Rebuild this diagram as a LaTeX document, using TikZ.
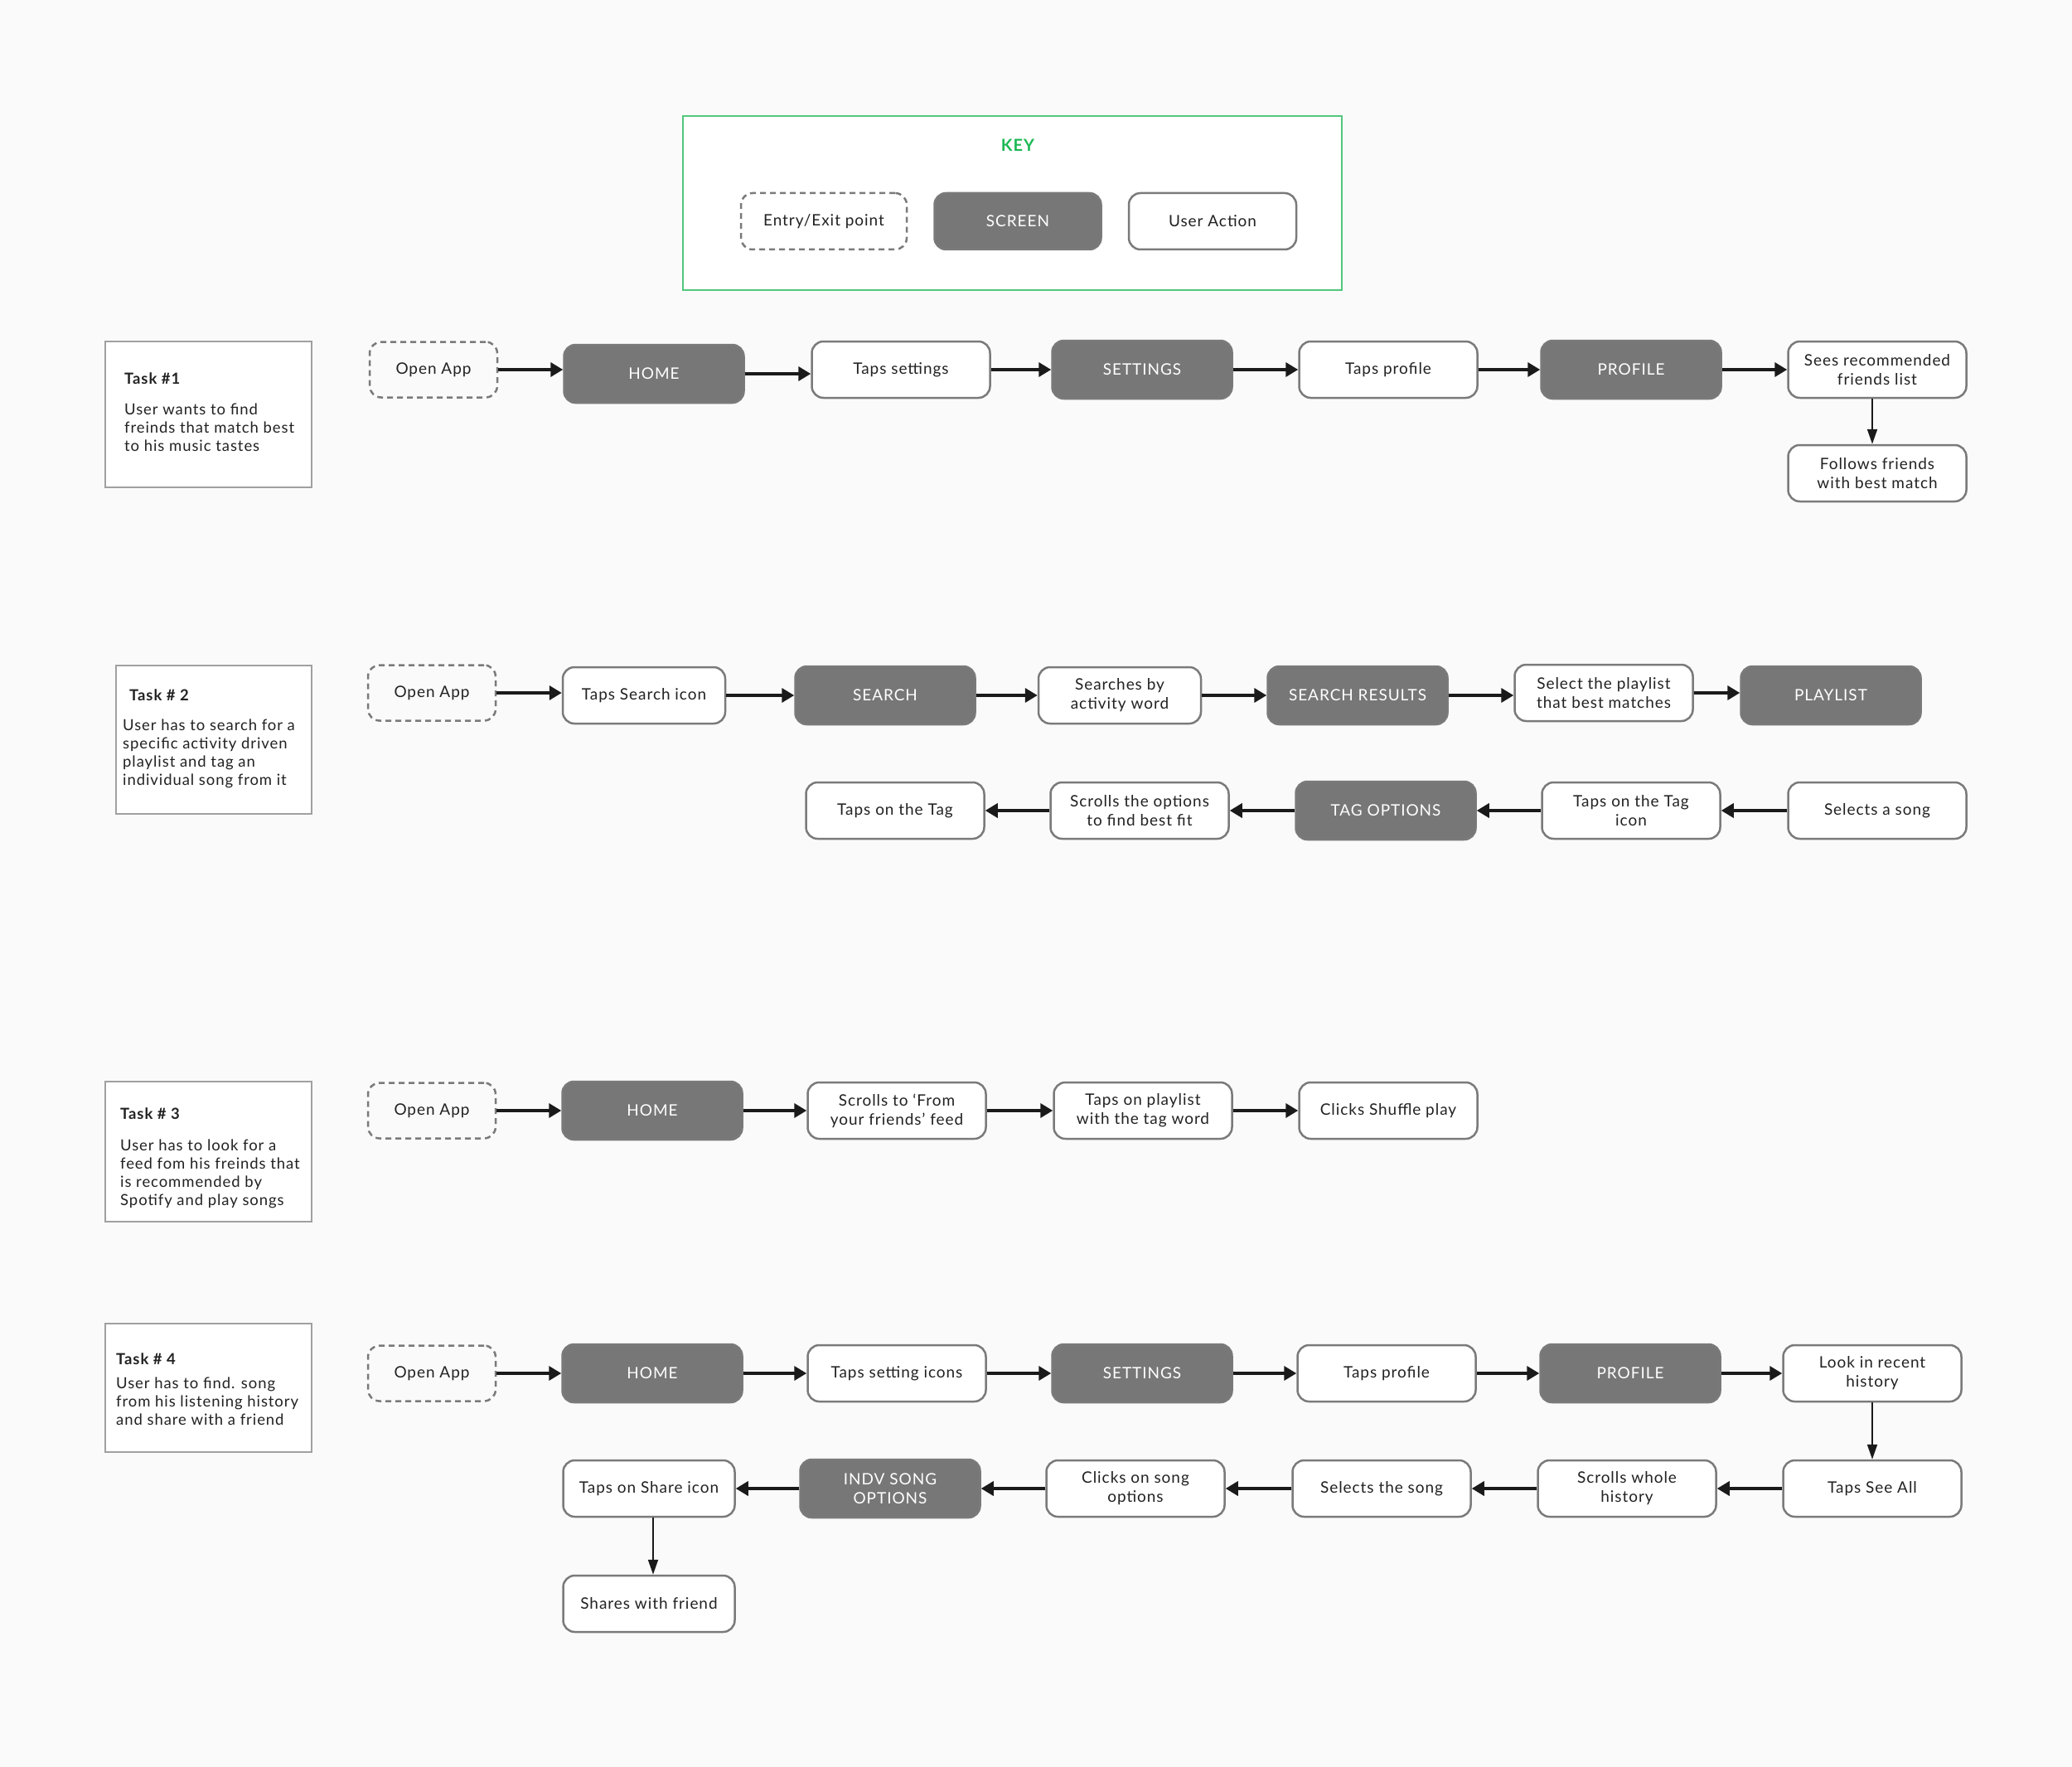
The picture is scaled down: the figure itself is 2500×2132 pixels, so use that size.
\documentclass[tikz,border=0pt]{standalone}
\usepackage{fontspec}
\setmainfont{Lato}[LetterSpace=5]
\usetikzlibrary{arrows.meta}
\definecolor{bg}{HTML}{FAFAFA}
\definecolor{boxgray}{HTML}{7A7A7A}
\definecolor{scrgray}{HTML}{777777}
\definecolor{keygreen}{HTML}{1DB954}
\definecolor{keyborder}{HTML}{52C77C}
\definecolor{arrowblack}{HTML}{1A1A1A}
\definecolor{taskborder}{HTML}{A0A0A0}
\definecolor{txt}{HTML}{222222}
\begin{document}
\begin{tikzpicture}[x=1pt,y=-1pt,
  base/.style={rounded corners=14pt, line width=2.5pt, draw=boxgray, align=center,
    font=\fontsize{19}{23}\selectfont, inner sep=0pt},
  action/.style={base, fill=white, text=txt, minimum width=215pt, minimum height=68pt},
  screen/.style={base, fill=scrgray, text=white, minimum width=217pt, minimum height=70pt},
  entry/.style={base, dash pattern=on 7pt off 5pt, text=txt, minimum width=154pt, minimum height=67pt},
  taskbox/.style={draw=taskborder, line width=1.5pt, fill=white, anchor=north west, inner sep=0pt},
  tasktext/.style={anchor=west, align=left, inner sep=0pt, text=txt, font=\fontsize{18.5}{22}\selectfont},
  flow/.style={-{Triangle[length=15pt,width=17pt]}, line width=3.5pt, draw=arrowblack},
  down/.style={-{Triangle[length=18pt,width=12pt]}, line width=2pt, draw=arrowblack}]
\useasboundingbox (0,0) rectangle (2500,2132);
\fill[bg] (0,0) rectangle (2500,2132);

% ---------- KEY ----------
\node[draw=keyborder, line width=2pt, fill=white, anchor=north west, minimum width=795pt, minimum height=210pt, inner sep=0pt] (key) at (823,139) {};
\node[text=keygreen, font=\fontsize{20}{24}\selectfont\bfseries] (keyt) at (1228,175) {KEY};
\node[entry, minimum width=200pt, minimum height=68pt] (ke) at (994,267) {Entry/Exit point};
\node[screen, minimum width=201pt, minimum height=68pt] (ks) at (1228,267) {SCREEN};
\node[action, minimum width=202pt, minimum height=68pt] (ka) at (1463,267) {User Action};

% ---------- TASK 1 ----------
\node[taskbox, minimum width=249pt, minimum height=176pt] (t1) at (126,411) {};
\node[tasktext] (t1t) at (150,497) {\textbf{Task \#1}\\[15pt]User wants to find\\freinds that match best\\to his music tastes};
\node[entry] (o1) at (523,446) {Open App};
\node[screen] (h1) at (789,451) {HOME};
\node[action] (a11) at (1087,446) {Taps settings};
\node[screen] (s11) at (1378,446) {SETTINGS};
\node[action] (a12) at (1675,446) {Taps profile};
\node[screen] (s12) at (1968,446) {PROFILE};
\node[action] (a13) at (2265,446) {Sees recommended\\friends list};
\node[action] (a14) at (2265,571) {Follows friends\\with best match};
\draw[flow] (o1.east) -- (o1.east -| h1.west);
\draw[flow] (h1.east) -- (h1.east -| a11.west);
\draw[flow] (a11.east) -- (a11.east -| s11.west);
\draw[flow] (s11.east) -- (s11.east -| a12.west);
\draw[flow] (a12.east) -- (a12.east -| s12.west);
\draw[flow] (s12.east) -- (s12.east -| a13.west);
\draw[down] ([xshift=-6pt]a13.south) -- ([xshift=-6pt]a13.south |- a14.north);

% ---------- TASK 2 ----------
\node[taskbox, minimum width=236pt, minimum height=179pt] (t2) at (139,802) {};
\node[tasktext] (t2t) at (148,891) {\hspace*{8pt}\textbf{Task \# 2}\\[14pt]User has to search for a\\specific activity driven\\playlist and tag an\\individual song from it};
\node[entry] (o2) at (521,836) {Open App};
\node[action, minimum width=196pt] (a21) at (777,839) {Taps Search icon};
\node[screen] (s21) at (1068,839) {SEARCH};
\node[action, minimum width=196pt] (a22) at (1351,839) {Searches by\\activity word};
\node[screen] (s22) at (1638,839) {SEARCH RESULTS};
\node[action] (a23) at (1935,836) {Select the playlist\\that best matches};
\node[screen] (s23) at (2209,839) {PLAYLIST};
\node[action] (a24) at (2265,978) {Selects a song};
\node[action] (a25) at (1968,978) {Taps on the Tag\\icon};
\node[screen] (s24) at (1672,978) {TAG OPTIONS};
\node[action] (a26) at (1375,978) {Scrolls the options\\to find best fit};
\node[action] (a27) at (1080,978) {Taps on the Tag};
\draw[flow] (o2.east) -- (o2.east -| a21.west);
\draw[flow] (a21.east) -- (a21.east -| s21.west);
\draw[flow] (s21.east) -- (s21.east -| a22.west);
\draw[flow] (a22.east) -- (a22.east -| s22.west);
\draw[flow] (s22.east) -- (s22.east -| a23.west);
\draw[flow] (a23.east) -- (a23.east -| s23.west);
\draw[flow] (a24.west) -- (a24.west -| a25.east);
\draw[flow] (a25.west) -- (a25.west -| s24.east);
\draw[flow] (s24.west) -- (s24.west -| a26.east);
\draw[flow] (a26.west) -- (a26.west -| a27.east);

% ---------- TASK 3 ----------
\node[taskbox, minimum width=249pt, minimum height=169pt] (t3) at (126,1304) {};
\node[tasktext] (t3t) at (145,1397) {\textbf{Task \# 3}\\[16pt]User has to look for a\\feed fom his freinds that\\is recommended by\\Spotify and play songs};
\node[entry] (o3) at (521,1340) {Open App};
\node[screen] (h3) at (787,1340) {HOME};
\node[action] (a31) at (1082,1340) {Scrolls to ‘From\\your friends’ feed};
\node[action] (a32) at (1379,1340) {Taps on playlist\\with the tag word};
\node[action] (a33) at (1675,1340) {Clicks Shuffle play};
\draw[flow] (o3.east) -- (o3.east -| h3.west);
\draw[flow] (h3.east) -- (h3.east -| a31.west);
\draw[flow] (a31.east) -- (a31.east -| a32.west);
\draw[flow] (a32.east) -- (a32.east -| a33.west);

% ---------- TASK 4 ----------
\node[taskbox, minimum width=249pt, minimum height=155pt] (t4) at (126,1596) {};
\node[tasktext] (t4t) at (140,1676) {\textbf{Task \# 4}\\[7pt]User has to find. song\\from his listening history\\and share with a friend};
\node[entry] (o4) at (521,1657) {Open App};
\node[screen] (h4) at (787,1657) {HOME};
\node[action] (a41) at (1082,1657) {Taps setting icons};
\node[screen] (s41) at (1378,1657) {SETTINGS};
\node[action] (a42) at (1673,1657) {Taps profile};
\node[screen] (s42) at (1967,1657) {PROFILE};
\node[action] (a43) at (2259,1657) {Look in recent\\history};
\node[action] (a44) at (2259,1796) {Taps See All};
\node[action] (a45) at (1963,1796) {Scrolls whole\\history};
\node[action] (a46) at (1667,1796) {Selects the song};
\node[action] (a47) at (1370,1796) {Clicks on song\\options};
\node[screen] (s43) at (1074,1796) {INDV SONG\\OPTIONS};
\node[action, minimum width=207pt] (a48) at (783,1796) {Taps on Share icon};
\node[action, minimum width=207pt] (a49) at (783,1935) {Shares with friend};
\draw[flow] (o4.east) -- (o4.east -| h4.west);
\draw[flow] (h4.east) -- (h4.east -| a41.west);
\draw[flow] (a41.east) -- (a41.east -| s41.west);
\draw[flow] (s41.east) -- (s41.east -| a42.west);
\draw[flow] (a42.east) -- (a42.east -| s42.west);
\draw[flow] (s42.east) -- (s42.east -| a43.west);
\draw[down] (a43.south) -- (a44.north);
\draw[flow] (a44.west) -- (a44.west -| a45.east);
\draw[flow] (a45.west) -- (a45.west -| a46.east);
\draw[flow] (a46.west) -- (a46.west -| a47.east);
\draw[flow] (a47.west) -- (a47.west -| s43.east);
\draw[flow] (s43.west) -- (s43.west -| a48.east);
\draw[down] ([xshift=5pt]a48.south) -- ([xshift=5pt]a48.south |- a49.north);
\end{tikzpicture}
\end{document}
